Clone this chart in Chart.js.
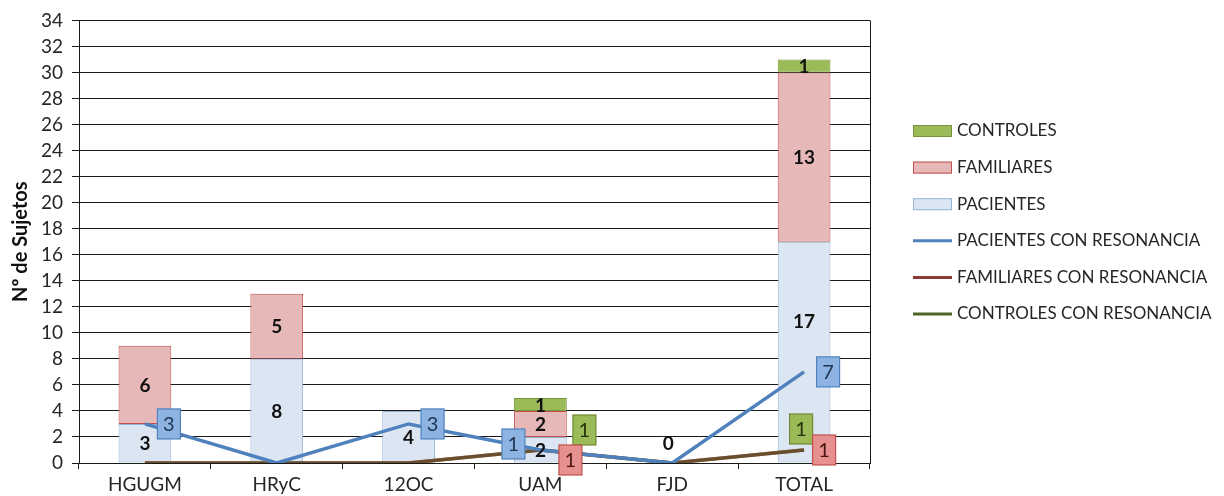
<!DOCTYPE html>
<html><head><meta charset="utf-8">
<script src="https://cdn.jsdelivr.net/npm/chart.js@4/dist/chart.umd.min.js"></script>
<style>html,body{margin:0;padding:0;background:#fff}#wrap{width:1224px;height:496px;position:relative}</style>
</head><body><div id="wrap"><canvas id="c"></canvas></div>
<script>
const categories = ['HGUGM','HRyC','12OC','UAM','FJD','TOTAL'];
const pacientes = [3,8,4,2,0,17];
const familiares = [6,5,0,2,0,13];
const controles = [0,0,0,1,0,1];
const pacientesRes = [3,0,3,1,0,7];
const familiaresRes = [0,0,0,1,0,1];
const controlesRes = [0,0,0,1,0,1];
const yMin = 0, yMax = 34, yStep = 2;
const yTitle = 'Nº de Sujetos';

const FONT = 'Lato';

// label box placement (px offsets from point), per dataset label
const boxOffsets = {
  'PACIENTES CON RESONANCIA': [[24,0],null,[24,0],[-27,-6],null,[24,0]],
  'CONTROLES CON RESONANCIA': [null,null,null,[44,-20],null,[-3,-21]],
  'FAMILIARES CON RESONANCIA': [null,null,null,[30,10],null,[20,0]]
};
// vertical shifts of bar value labels (px)
const barLabelShift = {'PACIENTES': [0,0,0,0,0,-31]};
const boxStyle = {
  'PACIENTES CON RESONANCIA': {fill:'#8db3e2', stroke:'#4f81bd', text:'#1f3550'},
  'FAMILIARES CON RESONANCIA': {fill:'#e6908f', stroke:'#c0504d', text:'#4a1515'},
  'CONTROLES CON RESONANCIA': {fill:'#9bbb59', stroke:'#6f8a34', text:'#26330c'}
};

const labelPlugin = {
  id: 'labels',
  beforeDatasetsDraw(chart) {
    const ctx = chart.ctx, a = chart.chartArea;
    ctx.save();
    ctx.strokeStyle = '#1a1a1a'; ctx.lineWidth = 1;
    ctx.beginPath(); ctx.moveTo(Math.round(a.right)+0.5, a.top); ctx.lineTo(Math.round(a.right)+0.5, a.bottom); ctx.stroke();
    ctx.restore();
  },
  afterDatasetsDraw(chart) {
    const ctx = chart.ctx;
    const y = chart.scales.y;
    ctx.save();
    ctx.textAlign = 'center'; ctx.textBaseline = 'middle';
    // bar labels
    ctx.font = `bold 19px ${FONT}`; ctx.fillStyle = '#111';
    chart.data.datasets.forEach((ds, di) => {
      if (ds.type === 'line') return;
      const meta = chart.getDatasetMeta(di);
      const shift = barLabelShift[ds.label] || [];
      meta.data.forEach((el, i) => {
        const v = ds.data[i];
        if (!v) return;
        const cy = (el.y + el.base) / 2 + (shift[i] || 0);
        ctx.fillText(String(v), el.x, cy + 1);
      });
    });
    // zero total label
    const barSets = chart.data.datasets.map((d,i)=>[d,i]).filter(([d])=>d.type!=='line');
    categories.forEach((c, i) => {
      const tot = barSets.reduce((s,[d])=>s + d.data[i], 0);
      if (tot === 0) {
        const el = chart.getDatasetMeta(barSets[0][1]).data[i];
        ctx.fillText('0', el.x - 4, y.getPixelForValue(0) - 19);
      }
    });
    // line label boxes
    ctx.font = `20px ${FONT}`;
    ['PACIENTES CON RESONANCIA','CONTROLES CON RESONANCIA','FAMILIARES CON RESONANCIA'].forEach(lbl => {
      const di = chart.data.datasets.findIndex(d => d.label === lbl);
      const ds = chart.data.datasets[di];
      const meta = chart.getDatasetMeta(di);
      const st = boxStyle[lbl];
      meta.data.forEach((pt, i) => {
        const off = boxOffsets[lbl][i];
        if (!off) return;
        const cx = pt.x + off[0], cy = pt.y + off[1];
        const w = 23, h = 30;
        ctx.fillStyle = st.fill; ctx.strokeStyle = st.stroke; ctx.lineWidth = 1.2;
        ctx.fillRect(cx - w/2, cy - h/2, w, h);
        ctx.strokeRect(cx - w/2, cy - h/2, w, h);
        ctx.fillStyle = st.text;
        ctx.fillText(String(ds.data[i]), cx, cy + 1);
      });
    });
    ctx.restore();
  },
  afterDraw(chart) {
    const ctx = chart.ctx;
    const order = ['CONTROLES','FAMILIARES','PACIENTES','PACIENTES CON RESONANCIA','FAMILIARES CON RESONANCIA','CONTROLES CON RESONANCIA'];
    ctx.save();
    ctx.font = `17px ${FONT}`; ctx.textBaseline = 'middle'; ctx.textAlign = 'left';
    order.forEach((lbl, k) => {
      const ds = chart.data.datasets.find(d => d.label === lbl);
      const yy = 131 + k * 36.6;
      const x0 = 913, x1 = 952;
      if (ds.type === 'line') {
        ctx.strokeStyle = ds.legendColor || ds.borderColor; ctx.lineWidth = 3;
        ctx.beginPath(); ctx.moveTo(x0, yy); ctx.lineTo(x1, yy); ctx.stroke();
      } else {
        ctx.fillStyle = ds.backgroundColor; ctx.strokeStyle = ds.borderColor; ctx.lineWidth = 1;
        ctx.fillRect(x0, yy - 6, x1 - x0, 12);
        ctx.strokeRect(x0 + 0.5, yy - 5.5, x1 - x0 - 1, 11);
      }
      ctx.fillStyle = '#262626';
      ctx.fillText(lbl, 957, yy);
    });
    ctx.restore();
  }
};

new Chart(document.getElementById('c'), {
  data: {
    labels: categories,
    datasets: [
      {type:'bar', label:'PACIENTES', data:pacientes, backgroundColor:'#dce6f2', borderColor:'#95b3d7', borderWidth:1, order:10, borderSkipped:false},
      {type:'bar', label:'FAMILIARES', data:familiares, backgroundColor:'#e6b9b8', borderColor:'#c0504d', borderWidth:1, order:10, borderSkipped:false},
      {type:'bar', label:'CONTROLES', data:controles, backgroundColor:'#9bbb59', borderColor:'#77933c', borderWidth:1, order:10, borderSkipped:false},
      {type:'line', label:'PACIENTES CON RESONANCIA', data:pacientesRes, borderColor:'#4f81bd', borderWidth:3.5, pointRadius:0, tension:0, stack:'l1', order:1},
      {type:'line', label:'FAMILIARES CON RESONANCIA', data:familiaresRes, borderColor:'#8c3836', borderWidth:3.5, pointRadius:0, tension:0, stack:'l2', order:3},
      {type:'line', label:'CONTROLES CON RESONANCIA', data:controlesRes, borderColor:'rgba(79,98,40,0.55)', legendColor:'#4f6228', borderWidth:3.5, pointRadius:0, tension:0, stack:'l3', order:2}
    ]
  },
  options: {
    responsive:true, maintainAspectRatio:false, animation:false,
    devicePixelRatio: 1,
    layout:{padding:{left:0, right:354, top:18, bottom:0}},
    datasets:{bar:{categoryPercentage:1, barPercentage:0.4}},
    plugins:{legend:{display:false}, tooltip:{enabled:false}},
    scales:{
      x:{stacked:true,
        grid:{display:true, drawOnChartArea:false, offset:true, tickLength:6, color:'#1a1a1a'},
        border:{color:'#1a1a1a'},
        ticks:{font:{family:FONT, size:19}, color:'#262626', padding:4},
        afterFit(s){ s.height = 33; }
      },
      y:{stacked:true, min:yMin, max:yMax,
        ticks:{stepSize:yStep, font:{family:FONT, size:19}, color:'#262626', padding:9},
        grid:{color:'#1a1a1a', tickLength:7},
        border:{color:'#1a1a1a'},
        title:{display:true, text:yTitle, font:{family:FONT, size:20, weight:'bold'}, color:'#111', padding:{top:9,bottom:0}},
        afterFit(s){ s.width = 79; }
      }
    }
  },
  plugins:[labelPlugin]
});
</script></body></html>
